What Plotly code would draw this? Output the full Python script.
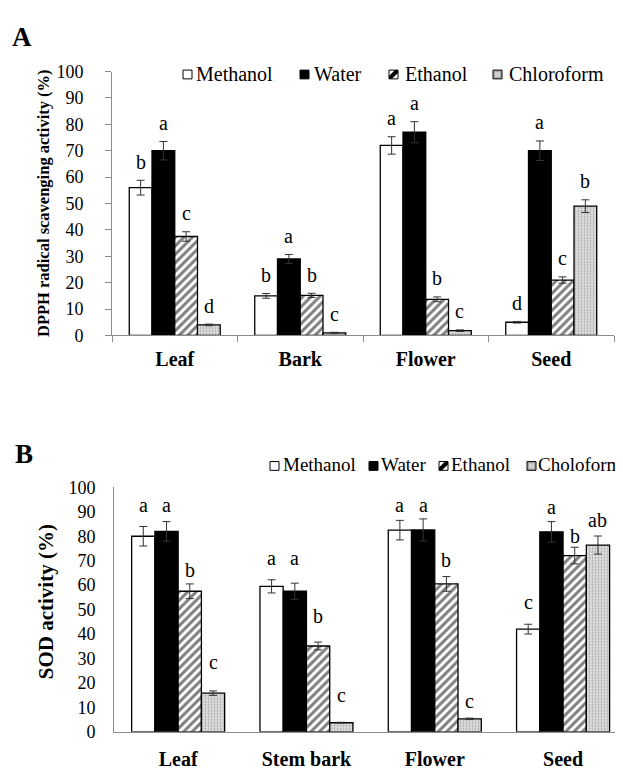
import plotly.graph_objects as go

# ---------------- data ----------------
solvents_A = ["Methanol", "Water", "Ethanol", "Chloroform"]
solvents_B = ["Methanol", "Water", "Ethanol", "Choloform"]
parts_A = ["Leaf", "Bark", "Flower", "Seed"]
parts_B = ["Leaf", "Stem bark", "Flower", "Seed"]

dpph_methanol = [56, 15, 72, 5]
dpph_water = [70, 29, 77, 70]
dpph_ethanol = [37.5, 15.2, 13.7, 21]
dpph_chloroform = [4, 1, 1.8, 49]

dpph_err_methanol = [2.8, 0.9, 3.3, 0.3]
dpph_err_water = [3.5, 1.7, 4.0, 3.7]
dpph_err_ethanol = [1.8, 0.8, 0.9, 1.2]
dpph_err_chloroform = [0.3, 0.2, 0.3, 2.4]

dpph_let_methanol = ["b", "b", "a", "d"]
dpph_let_water = ["a", "a", "a", "a"]
dpph_let_ethanol = ["c", "b", "b", "c"]
dpph_let_chloroform = ["d", "c", "c", "b"]

sod_methanol = [80, 59.5, 82.5, 42]
sod_water = [82, 57.5, 82.6, 81.8]
sod_ethanol = [57.5, 35.1, 60.5, 72.1]
sod_chloroform = [15.8, 3.7, 5.3, 76.4]

sod_err_methanol = [4.0, 2.7, 4.0, 2.0]
sod_err_water = [4.0, 3.3, 4.5, 4.2]
sod_err_ethanol = [3.0, 1.6, 3.0, 3.4]
sod_err_chloroform = [0.9, 0.2, 0.3, 3.7]

sod_let_methanol = ["a", "a", "a", "c"]
sod_let_water = ["a", "a", "a", "a"]
sod_let_ethanol = ["b", "b", "b", "b"]
sod_let_chloroform = ["c", "c", "c", "ab"]

# heights (data units) at which the significance letters were printed in panel B
sod_lety_methanol = [92.8, 71.3, 92.8, 53.3]
sod_lety_water = [92.8, 71.3, 92.8, 92.0]
sod_lety_ethanol = [66.0, 47.4, 70.4, 80.3]
sod_lety_chloroform = [28.5, 14.9, 12.5, 86.8]

# ---------------- layout helpers ----------------
FONT = "Liberation Serif"
OFF = 8                      # page body margin of the html page
W, H = 623 - OFF, 771 - OFF  # figure size so it fits the window


def fx(px):
    return (px - OFF) / W


def fy(py):
    return 1 - (py - OFF) / H


styles = [
    dict(color="white", pattern=None),
    dict(color="black", pattern=None),
    dict(color="white", pattern=dict(shape="/", fgcolor="black", bgcolor="white", size=6, solidity=0.5)),
    dict(color="#d9d9d9", pattern=dict(shape=".", fgcolor="#6e6e6e", bgcolor="#e0e0e0", size=3, solidity=0.3)),
]

fig = go.Figure()

A_vals = [dpph_methanol, dpph_water, dpph_ethanol, dpph_chloroform]
A_errs = [dpph_err_methanol, dpph_err_water, dpph_err_ethanol, dpph_err_chloroform]
A_lets = [dpph_let_methanol, dpph_let_water, dpph_let_ethanol, dpph_let_chloroform]
B_vals = [sod_methanol, sod_water, sod_ethanol, sod_chloroform]
B_errs = [sod_err_methanol, sod_err_water, sod_err_ethanol, sod_err_chloroform]
B_lets = [sod_let_methanol, sod_let_water, sod_let_ethanol, sod_let_chloroform]
B_lety = [sod_lety_methanol, sod_lety_water, sod_lety_ethanol, sod_lety_chloroform]


def marker_for(i):
    st = styles[i]
    m = dict(color=st["color"], line=dict(color="black", width=1.3))
    if st["pattern"]:
        m["pattern"] = st["pattern"]
    return m


for i in range(4):
    fig.add_trace(go.Bar(
        x=parts_A, y=A_vals[i], name=solvents_A[i], showlegend=False,
        marker=marker_for(i),
        error_y=dict(type="data", array=A_errs[i], color="#333333", thickness=1, width=4),
        xaxis="x", yaxis="y",
    ))
for i in range(4):
    fig.add_trace(go.Bar(
        x=parts_B, y=B_vals[i], name=solvents_B[i], showlegend=False,
        marker=marker_for(i),
        error_y=dict(type="data", array=B_errs[i], color="#333333", thickness=1, width=4),
        xaxis="x2", yaxis="y2",
    ))

gapA = 0.275
annotations = []
shapes = []
for i in range(4):
    for j in range(4):
        wA = (1 - gapA) / 4
        annotations.append(dict(
            x=j + (i - 1.5) * wA, y=A_vals[i][j] + A_errs[i][j] + 7,
            xref="x", yref="y", text=A_lets[i][j], showarrow=False,
            font=dict(family=FONT, size=20, color="black"), yanchor="middle",
        ))
        annotations.append(dict(
            x=j + (i - 1.5) * wA, y=B_lety[i][j],
            xref="x2", yref="y2", text=B_lets[i][j], showarrow=False,
            font=dict(family=FONT, size=20, color="black"), yanchor="middle",
        ))

# panel letters
annotations.append(dict(x=fx(22), y=fy(27), xref="paper", yref="paper", text="<b>A</b>",
                        xanchor="center", yanchor="middle",
                        showarrow=False, font=dict(family=FONT, size=27, color="black")))
annotations.append(dict(x=fx(24), y=fy(456), xref="paper", yref="paper", text="<b>B</b>",
                        xanchor="center", yanchor="middle",
                        showarrow=False, font=dict(family=FONT, size=27, color="black")))

# axis titles as rotated text
annotations.append(dict(x=fx(43), y=fy(198), xref="paper", yref="paper",
                        text="<b>DPPH radical scavenging activity (%)</b>", textangle=-90,
                        xanchor="center", yanchor="middle", showarrow=False,
                        font=dict(family=FONT, size=16.5, color="black")))
annotations.append(dict(x=fx(46), y=fy(608), xref="paper", yref="paper",
                        text="<b>SOD activity (%)</b>", textangle=-90,
                        xanchor="center", yanchor="middle", showarrow=False,
                        font=dict(family=FONT, size=21, color="black")))

# hand-made legends (symbol boxes + labels), positions in window pixels
legend_A_boxes = [183, 300, 389, 493]
legend_A_text = [194, 312, 403, 507]
legend_B_boxes = [270, 369, 439, 527]
legend_B_text = [282, 380, 450, 537]


def legend_symbol(i, x0, yc, s=9):
    x1 = x0 + s
    y0, y1 = yc - s / 2, yc + s / 2
    X0, X1, Y0, Y1 = fx(x0), fx(x1), fy(y1), fy(y0)
    line = dict(color="black", width=1)
    if i == 0:
        shapes.append(dict(type="rect", xref="paper", yref="paper", x0=X0, x1=X1, y0=Y0, y1=Y1,
                           fillcolor="white", line=line))
    elif i == 1:
        shapes.append(dict(type="rect", xref="paper", yref="paper", x0=X0, x1=X1, y0=Y0, y1=Y1,
                           fillcolor="black", line=line))
    elif i == 2:
        shapes.append(dict(type="rect", xref="paper", yref="paper", x0=X0, x1=X1, y0=Y0, y1=Y1,
                           fillcolor="white", line=line))
        shapes.append(dict(type="path", xref="paper", yref="paper",
                           path=f"M {fx(x0)} {fy(y1)} L {fx(x0)} {fy(y1 - 3)} L {fx(x1 - 3)} {fy(y0)} "
                                f"L {fx(x1)} {fy(y0)} L {fx(x1)} {fy(y0 + 3)} L {fx(x0 + 3)} {fy(y1)} Z",
                           fillcolor="black", line=dict(width=0)))
    else:
        shapes.append(dict(type="rect", xref="paper", yref="paper", x0=X0, x1=X1, y0=Y0, y1=Y1,
                           fillcolor="#a9a9a9", line=line))
        shapes.append(dict(type="rect", xref="paper", yref="paper",
                           x0=fx(x0 + 2), x1=fx(x1 - 2), y0=fy(y1 - 2), y1=fy(y0 + 2),
                           fillcolor="#d0d0d0", line=dict(width=0)))


for i in range(4):
    legend_symbol(i, legend_A_boxes[i], 66)
    annotations.append(dict(x=fx(legend_A_text[i]), y=fy(66), xref="paper", yref="paper",
                            text=solvents_A[i], xanchor="left", yanchor="middle", showarrow=False,
                            font=dict(family=FONT, size=20, color="black")))
    legend_symbol(i, legend_B_boxes[i], 468)
    annotations.append(dict(x=fx(legend_B_text[i]), y=fy(467), xref="paper", yref="paper",
                            text=solvents_B[i], xanchor="left", yanchor="middle", showarrow=False,
                            borderpad=0,
                            font=dict(family=FONT, size=19, color="black")))

axis_common = dict(showgrid=False, zeroline=False, showline=True, linecolor="#8c8c8c", linewidth=1)

fig.update_layout(
    width=W, height=H,
    margin=dict(l=0, r=0, t=0, b=0),
    paper_bgcolor="white", plot_bgcolor="white",
    font=dict(family=FONT, size=18, color="black"),
    barmode="group", bargap=gapA, bargroupgap=0,
    showlegend=False,
    xaxis=dict(domain=[fx(112), fx(614)], anchor="y", type="category",
               ticks="outside", tickson="boundaries", ticklen=6, tickcolor="#8c8c8c",
               tickfont=dict(family=FONT, size=20, color="black", weight="bold"),
               ticklabelstandoff=6, **axis_common),
    yaxis=dict(domain=[fy(334), fy(63)], anchor="x", range=[0, 100], dtick=10,
               ticks="outside", ticklen=6, tickcolor="#8c8c8c",
               tickfont=dict(family=FONT, size=18, color="black"),
               ticklabelstandoff=18, **axis_common),
    xaxis2=dict(domain=[fx(114), 1.0], anchor="y2", type="category",
                range=[-0.5, 3.467], ticks="",
                tickfont=dict(family=FONT, size=20, color="black", weight="bold"),
                ticklabelstandoff=9, **axis_common),
    yaxis2=dict(domain=[fy(741), fy(490)], anchor="x2", range=[0, 100], dtick=10,
                ticks="", tickfont=dict(family=FONT, size=18, color="black"),
                ticklabelstandoff=14, **axis_common),
    annotations=annotations,
    shapes=shapes,
)

fig.write_html("out.html")
